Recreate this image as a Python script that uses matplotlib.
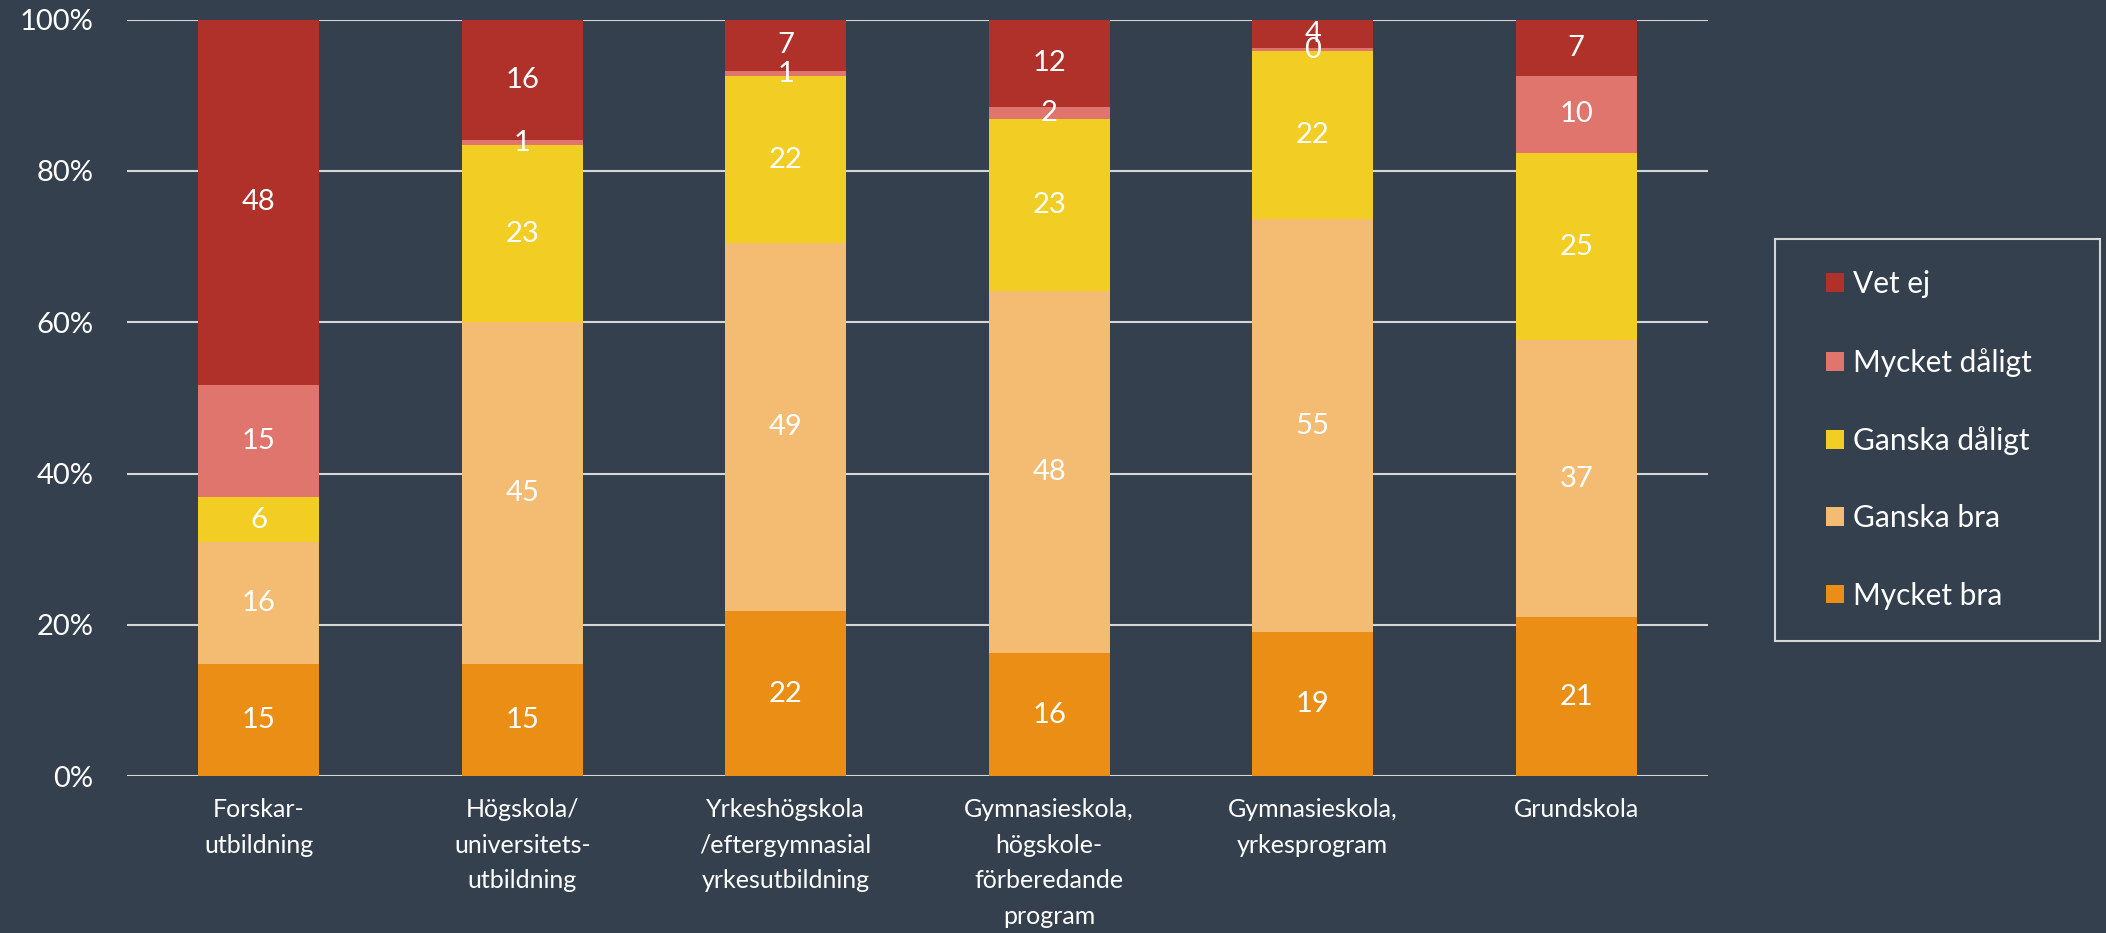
import numpy as np
import matplotlib.pyplot as plt
import matplotlib.patches as mpatches

# Data (andel i procent)
kategorier = ["Forskar-\nutbildning", "Högskola/\nuniversitets-\nutbildning",
              "Yrkeshögskola\n/eftergymnasial\nyrkesutbildning",
              "Gymnasieskola,\nhögskole-\nförberedande\nprogram",
              "Gymnasieskola,\nyrkesprogram", "Grundskola"]
mycket_bra    = [14.9, 14.8, 21.8, 16.3, 19.0, 21.0]
ganska_bra    = [16.0, 45.2, 48.7, 47.8, 54.6, 36.6]
ganska_daligt = [6.0, 23.4, 22.0, 22.7, 22.2, 24.8]
mycket_daligt = [14.8, 0.7, 0.7, 1.6, 0.4, 10.2]
vet_ej        = [48.3, 15.9, 6.8, 11.6, 3.8, 7.4]

serier = ["Mycket bra", "Ganska bra", "Ganska dåligt", "Mycket dåligt", "Vet ej"]
varden = [mycket_bra, ganska_bra, ganska_daligt, mycket_daligt, vet_ej]
farger = ["#EA8E15", "#F4BC72", "#F2CD24", "#E0756D", "#B0302A"]

bg = "#34404E"
plt.rcParams['font.family'] = ["Lato", "DejaVu Sans"]

fig = plt.figure(figsize=(21.06, 9.33), dpi=100, facecolor=bg)
ax = fig.add_axes([0.0603, 0.168, 0.7507, 0.811], facecolor=bg)

x = np.arange(len(kategorier))
botten = np.zeros(len(kategorier))
handles = []
for namn, v, c in zip(serier, varden, farger):
    v = np.array(v)
    b = ax.bar(x, v, 0.46, bottom=botten, color=c, zorder=3, label=namn)
    handles.append(b)
    for xi, yi, bi in zip(x, v, botten):
        ax.text(xi, bi + yi / 2, f"{round(yi)}", ha="center", va="center",
                color="white", fontsize=21, zorder=4)
    botten += v

ax.set_xlim(-0.5, 5.5)
ax.set_ylim(0, 100)
ax.set_yticks(np.arange(0, 101, 20))
ax.set_yticklabels([f"{t}%" for t in range(0, 101, 20)])
ax.yaxis.grid(True, color="#D6D6D6", linewidth=1.5, zorder=0)
ax.set_xticks(x)
ax.set_xticklabels(kategorier, linespacing=1.65)
ax.tick_params(axis="both", length=0, colors="white")
ax.tick_params(axis="x", pad=16, labelsize=18)
ax.tick_params(axis="y", pad=24, labelsize=21)
for s in ax.spines.values():
    s.set_visible(False)

# legend med egen ram
ram = mpatches.Rectangle((0.8428, 0.3130), 0.1543, 0.4309, transform=fig.transFigure,
                         facecolor=bg, edgecolor="#D6D6D6", linewidth=1.5)
fig.patches.append(ram)
leg = fig.legend(handles[::-1], serier[::-1], loc="center left",
                 bbox_to_anchor=(0.867, 0.5284), frameon=False, fontsize=21.5,
                 borderpad=0, borderaxespad=0, labelspacing=1.65,
                 handlelength=0.6, handleheight=0.6, handletextpad=0.3,
                 labelcolor="white")

fig.savefig("out.png", dpi=100, facecolor=bg)
